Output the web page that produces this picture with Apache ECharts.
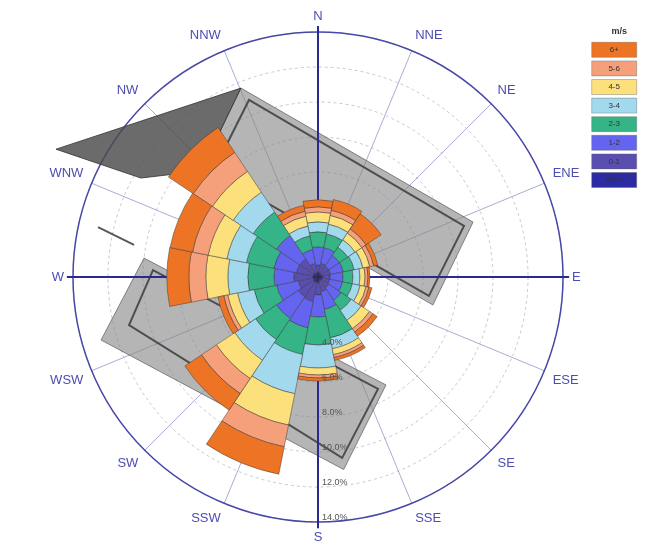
<!DOCTYPE html>
<html>
<head>
<meta charset="utf-8">
<script src="https://cdn.jsdelivr.net/npm/echarts@6/dist/echarts.min.js"></script>
<style>
html,body{margin:0;padding:0;background:#fff;}
#chart{width:652px;height:547px;}
</style>
</head>
<body>
<div id="chart"></div>
<script>
// 16 compass directions
const directions = ['N','NNE','NE','ENE','E','ESE','SE','SSE','S','SSW','SW','WSW','W','WNW','NW','NNW'];
// speed classes (m/s), innermost first
const speedBins = ['calm','0-1','1-2','2-3','3-4','4-5','5-6','6+'];
const binColors = ['#2b2ba3','#5a4fb0','#6464f0','#35b487','#a2d9ec','#fbe07c','#f6a07b','#ee7425'];
// frequency (%) per class, per direction N..NNW
const calm = [0.23,0.23,0.23,0.23,0.23,0.23,0.23,0.23,0.29,0.34,0.34,0.29,0.29,0.29,0.29,0.23];
const s0_1 = [0.46,0.57,0.51,0.51,0.46,0.46,0.51,0.63,0.74,1.09,1.03,0.86,1.09,0.97,0.97,0.57];
const s1_2 = [1.03,0.91,0.74,0.74,0.74,0.74,0.86,1.03,1.26,1.54,1.49,1.26,1.14,1.31,1.60,0.80];
const s2_3 = [0.86,0.80,0.57,0.63,0.57,0.57,0.69,1.66,1.60,1.54,1.43,1.31,1.49,1.60,1.60,0.80];
const s3_4 = [0.57,0.57,0.51,0.51,0.40,0.46,0.69,0.63,1.31,2.29,1.43,0.97,1.14,1.14,1.37,0.57];
const s4_5 = [0.57,0.51,0.46,0.40,0.29,0.34,0.57,0.34,0.40,1.83,1.26,0.57,1.26,1.09,1.43,0.57];
const s5_6 = [0.29,0.29,0.29,0.23,0.17,0.17,0.23,0.17,0.17,1.26,1.03,0.23,0.97,0.91,1.31,0.29];
const s6p  = [0.40,0.63,1.03,0.23,0.11,0.17,0.29,0.17,0.17,1.60,1.14,0.34,1.26,1.31,1.71,0.34];
const binValues = [calm,s0_1,s1_2,s2_3,s3_4,s4_5,s5_6,s6p];
// radial ticks (%)
const radiusMax = 14;
const radiusStep = 2;
const labelFrom = 4;
// grey overlay shapes: [compass bearing deg, radius %]
const overlayLightA = [[337.8,11.66],[70.5,9.40],[103.7,6.76],[312.2,9.02]];
const overlayLightC = [[276.2,10.0],[147.8,7.29],[172.4,11.1],[253.8,12.91]];
const overlayDark   = [[296.0,16.66],[337.8,11.66],[312.2,9.02],[299.2,11.59]];
const outlineA = [[338.7,10.86],[70.7,8.84],[99.7,6.43],[315,8.49]];
const outlineC = [[272.4,9.44],[151.8,7.26],[172.4,10.43],[255.75,11.14]];
const outlineLeft = [[282.8,12.89],[279.9,10.67]];
// main cardinal lines (bearing) and their length (%)
const mainDirs = [0,90,180,270];
const mainLen = 14.35;

const CENTER = [318, 277];
const RADIUS = 245;
function toAxis(b){ return (b + 180) % 360; }

function polySeries(name, pts, style, closed, z){
  return {
    name: name, type:'custom', coordinateSystem:'polar', polarIndex:1, z:z, silent:true,
    data: pts.map(p => [p[1], toAxis(p[0])]),
    renderItem: function(params, api){
      if (params.dataIndex !== 0) return null;
      const points = pts.map(p => api.coord([p[1], toAxis(p[0])]));
      if (closed) return {type:'polygon', shape:{points:points}, style:style};
      return {type:'polyline', shape:{points:points}, style:style};
    }
  };
}

const chart = echarts.init(document.getElementById('chart'));
const series = [];
series.push(polySeries('ovA', overlayLightA, {fill:'rgba(135,135,135,0.62)', stroke:'rgba(90,90,90,0.7)', lineWidth:1}, true, 1));
series.push(polySeries('ovC', overlayLightC, {fill:'rgba(135,135,135,0.62)', stroke:'rgba(90,90,90,0.7)', lineWidth:1}, true, 1));
series.push(polySeries('ovD', overlayDark, {fill:'rgba(75,75,75,0.82)', stroke:'rgba(50,50,50,0.8)', lineWidth:1}, true, 1));
series.push(polySeries('olA', outlineA, {fill:null, stroke:'rgba(60,60,60,0.85)', lineWidth:2}, true, 2));
series.push(polySeries('olC', outlineC, {fill:null, stroke:'rgba(60,60,60,0.85)', lineWidth:2}, true, 2));
series.push(polySeries('olL', outlineLeft, {fill:null, stroke:'rgba(60,60,60,0.85)', lineWidth:2}, false, 2));
series.push({
  name:'main', type:'custom', coordinateSystem:'polar', polarIndex:1, z:2, silent:true,
  data: mainDirs.map(b => [mainLen, toAxis(b)]),
  renderItem: function(params, api){
    const a = api.value(1);
    const p0 = api.coord([0, a]);
    const p1 = api.coord([api.value(0), a]);
    return {type:'line', shape:{x1:p0[0], y1:p0[1], x2:p1[0], y2:p1[1]}, style:{stroke:'#2a2a8e', lineWidth:2}};
  }
});
speedBins.forEach((name, i) => {
  series.push({
    name: name, type:'bar', coordinateSystem:'polar', polarIndex:0, stack:'total',
    barCategoryGap:'0%', z:3, silent:true,
    itemStyle:{color: binColors[i], borderColor:'rgba(50,50,50,0.65)', borderWidth:0.7},
    data: binValues[i]
  });
});

chart.setOption({
  animation:false,
  backgroundColor:'#fff',
  title:{text:'m/s', right:20, top:22, textStyle:{fontSize:9, fontWeight:'bold', color:'#333', fontFamily:'Liberation Sans'}},
  legend:{
    data: speedBins.slice().reverse(),
    orient:'vertical', right:10, top:37, itemWidth:45, itemHeight:15, itemGap:3,
    icon:'rect', selectedMode:false,
    itemStyle:{borderColor:'rgba(90,90,90,0.6)', borderWidth:0.6},
    formatter: n => '{a|' + n + '}',
    textStyle:{padding:[0,0,0,-50], fontSize:8, color:'#333', fontFamily:'Liberation Sans',
      rich:{a:{width:45, align:'center', fontSize:8, color:'#333'}}}
  },
  polar:[
    {center:CENTER, radius:RADIUS},
    {center:CENTER, radius:RADIUS}
  ],
  angleAxis:[
    {polarIndex:0, type:'category', data:directions, startAngle:101.25, clockwise:true, boundaryGap:true,
     axisLine:{show:false}, axisTick:{show:false}, axisLabel:{show:false}, splitLine:{show:false}},
    {polarIndex:1, type:'value', min:0, max:360, interval:22.5, startAngle:270, clockwise:true,
     axisLine:{show:true, lineStyle:{color:'#4747a8', width:1.5}},
     axisTick:{show:false},
     splitLine:{show:true, lineStyle:{color:'#a9acd6', width:1}},
     axisLabel:{show:true, margin:9, color:'#4d4db0', fontSize:13, fontFamily:'Liberation Sans',
       formatter: v => v >= 360 ? '' : directions[Math.round(((v + 180) % 360) / 22.5) % 16]}}
  ],
  radiusAxis:[
    {polarIndex:0, type:'value', min:0, max:radiusMax, interval:radiusStep,
     axisLine:{show:false}, axisTick:{show:false}, axisLabel:{show:false},
     splitLine:{show:true, lineStyle:{color:'#c9c9c9', type:[3,3], width:1}}},
    {polarIndex:1, type:'value', min:0, max:radiusMax, interval:radiusStep, z:10,
     axisLine:{show:false}, axisTick:{show:false}, splitLine:{show:false},
     axisLabel:{show:true, margin:4, verticalAlign:'bottom', color:'#555', fontSize:9, fontFamily:'Liberation Sans',
       formatter: v => v >= labelFrom ? v.toFixed(1) + '%' : ''}}
  ],
  series: series
});
</script>
</body>
</html>
